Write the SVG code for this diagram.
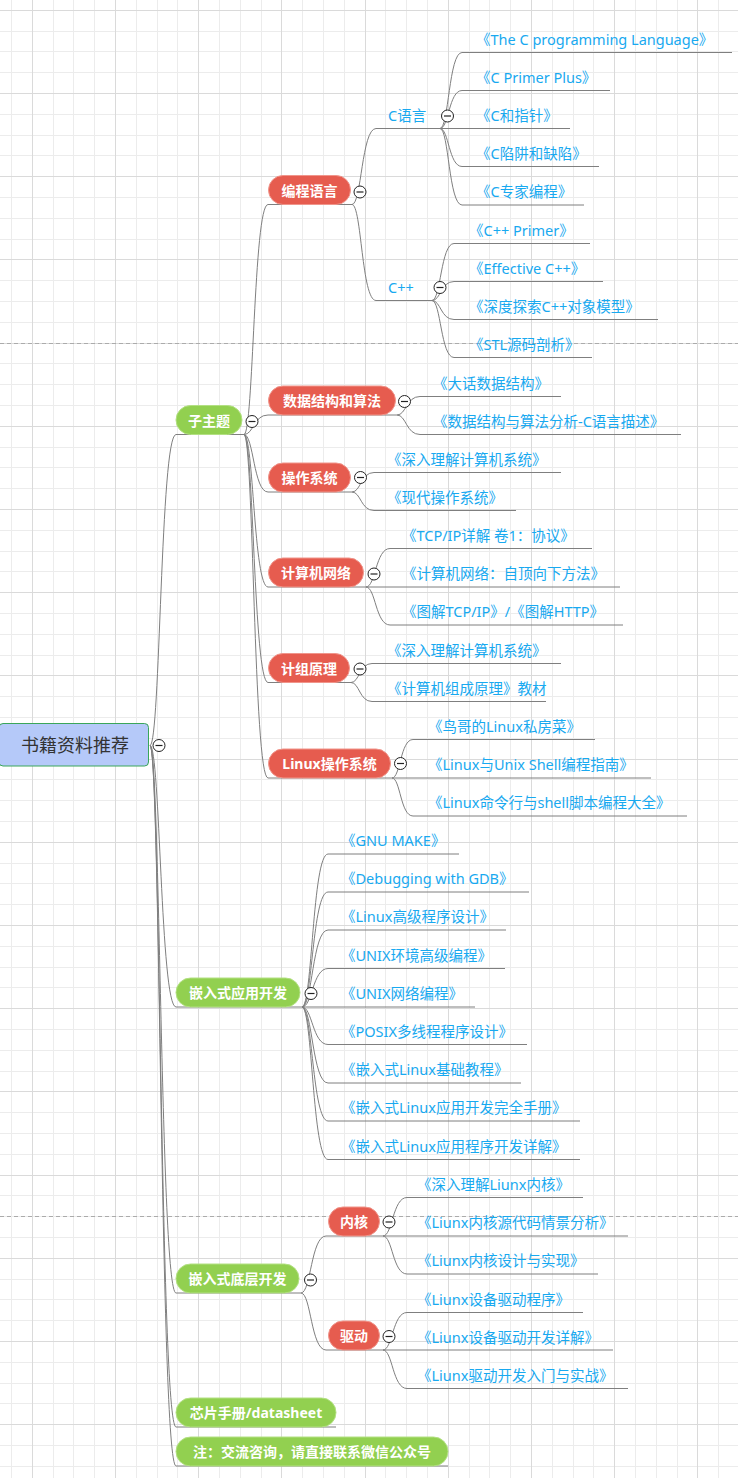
<svg xmlns="http://www.w3.org/2000/svg" xmlns:xlink="http://www.w3.org/1999/xlink" width="738" height="1478" viewBox="0 0 738 1478">
<style>
.gmin{stroke:#ececec;stroke-width:1;fill:none}
.gmaj{stroke:#dadada;stroke-width:1;fill:none}
.page{stroke:#ababab;stroke-width:1;stroke-dasharray:4 3}
#connectors path{fill:none;stroke:#7f7f7f;stroke-width:1}
.pr{fill:#e65c4f;stroke:#f0958b;stroke-width:1}
.pg{fill:#92d050;stroke:#b3e083;stroke-width:1}
.pt{font-family:"Noto Sans","Noto Sans CJK SC",sans-serif;font-size:14px;font-weight:bold;fill:#ffffff;text-anchor:middle}
.lt{font-family:"Noto Sans","Noto Sans CJK SC",sans-serif;font-size:14.5px;fill:#18a9f0}
.tc{fill:#ffffff;stroke:#222222;stroke-width:1}
.tm{stroke:#222222;stroke-width:1.2}
</style>
<defs>
<g id="tog"><circle class="tc" cx="0" cy="0" r="6"/><path class="tm" d="M-3.5 0H3.5"/></g>
</defs>
<rect width="738" height="1478" fill="#ffffff"/>
<g id="grid">
<path class="gmin" d="M11.5 0V1478M53.5 0V1478M73.5 0V1478M94.5 0V1478M136.5 0V1478M157.5 0V1478M177.5 0V1478M219.5 0V1478M240.5 0V1478M261.5 0V1478M302.5 0V1478M323.5 0V1478M344.5 0V1478M385.5 0V1478M406.5 0V1478M427.5 0V1478M469.5 0V1478M489.5 0V1478M510.5 0V1478M552.5 0V1478M573.5 0V1478M593.5 0V1478M635.5 0V1478M656.5 0V1478M677.5 0V1478M718.5 0V1478"/>
<path class="gmin" d="M0 31.5H738M0 51.5H738M0 72.5H738M0 114.5H738M0 135.5H738M0 155.5H738M0 197.5H738M0 218.5H738M0 239.5H738M0 280.5H738M0 301.5H738M0 322.5H738M0 363.5H738M0 384.5H738M0 405.5H738M0 447.5H738M0 467.5H738M0 488.5H738M0 530.5H738M0 551.5H738M0 571.5H738M0 613.5H738M0 634.5H738M0 655.5H738M0 696.5H738M0 717.5H738M0 738.5H738M0 779.5H738M0 800.5H738M0 821.5H738M0 863.5H738M0 883.5H738M0 904.5H738M0 946.5H738M0 967.5H738M0 987.5H738M0 1029.5H738M0 1050.5H738M0 1071.5H738M0 1112.5H738M0 1133.5H738M0 1154.5H738M0 1195.5H738M0 1216.5H738M0 1237.5H738M0 1279.5H738M0 1299.5H738M0 1320.5H738M0 1362.5H738M0 1383.5H738M0 1403.5H738M0 1445.5H738M0 1466.5H738"/>
<path class="gmaj" d="M32.5 0V1478M115.5 0V1478M198.5 0V1478M281.5 0V1478M365.5 0V1478M448.5 0V1478M531.5 0V1478M614.5 0V1478M697.5 0V1478"/>
<path class="gmaj" d="M0 10.5H738M0 93.5H738M0 176.5H738M0 259.5H738M0 343.5H738M0 426.5H738M0 509.5H738M0 592.5H738M0 675.5H738M0 759.5H738M0 842.5H738M0 925.5H738M0 1008.5H738M0 1091.5H738M0 1175.5H738M0 1258.5H738M0 1341.5H738M0 1424.5H738"/>
<path class="page" d="M0 343.5H738M0 1216.5H738"/>
</g>
<g id="connectors">
<path d="M150 745.5C160.4 745.5 160.4 434.5 176 434.5H244"/>
<path d="M150 745.5C160.4 745.5 160.4 1007 176 1007H302"/>
<path d="M150 745.5C160.4 745.5 160.4 1293 176 1293H301"/>
<path d="M150 745.5C160.4 745.5 160.4 1427 176 1427H336"/>
<path d="M150 745.5C160.4 745.5 160.4 1466 176 1466H448"/>
<path d="M244 434.5C253.6 434.5 253.6 204.5 268 204.5H352"/>
<path d="M244 434.5C253.6 434.5 253.6 415 268 415H397"/>
<path d="M244 434.5C253.6 434.5 253.6 492 268 492H352"/>
<path d="M244 434.5C253.6 434.5 253.6 587 268 587H366"/>
<path d="M244 434.5C253.6 434.5 253.6 682.5 268 682.5H351"/>
<path d="M244 434.5C253.6 434.5 253.6 778 268 778H392"/>
<path d="M352 204.5C361.6 204.5 361.6 128.5 376 128.5H440"/>
<path d="M352 204.5C361.6 204.5 361.6 300.5 376 300.5H432"/>
<path d="M440 128.5C448.8 128.5 448.8 52.5 462 52.5H732"/>
<path d="M440 128.5C448.8 128.5 448.8 90.5 462 90.5H610"/>
<path d="M440 128.5H570"/>
<path d="M440 128.5C448.8 128.5 448.8 166.5 462 166.5H599"/>
<path d="M440 128.5C448.8 128.5 448.8 205 462 205H584"/>
<path d="M432 300.5C440.8 300.5 440.8 243.5 454 243.5H590"/>
<path d="M432 300.5C440.8 300.5 440.8 281.5 454 281.5H603"/>
<path d="M432 300.5C440.8 300.5 440.8 319.5 454 319.5H658"/>
<path d="M432 300.5C440.8 300.5 440.8 357.5 454 357.5H592"/>
<path d="M397 415C406.2 415 406.2 396.5 420 396.5H561"/>
<path d="M397 415C406.2 415 406.2 434.5 420 434.5H681"/>
<path d="M352 492C360.8 492 360.8 472.5 374 472.5H561"/>
<path d="M352 492C360.8 492 360.8 510.5 374 510.5H516"/>
<path d="M366 587C375.6 587 375.6 548.5 390 548.5H592"/>
<path d="M366 587H620"/>
<path d="M366 587C375.6 587 375.6 625 390 625H623"/>
<path d="M351 682.5C359.4 682.5 359.4 663.5 372 663.5H561"/>
<path d="M351 682.5C359.4 682.5 359.4 701.5 372 701.5H546"/>
<path d="M392 778C400.4 778 400.4 739.5 413 739.5H595"/>
<path d="M392 778H651"/>
<path d="M392 778C400.4 778 400.4 816 413 816H687"/>
<path d="M302 1007C312.4 1007 312.4 854 328 854H459"/>
<path d="M302 1007C312.4 1007 312.4 892 328 892H529"/>
<path d="M302 1007C312.4 1007 312.4 930 328 930H506"/>
<path d="M302 1007C312.4 1007 312.4 968.5 328 968.5H505"/>
<path d="M302 1007H475"/>
<path d="M302 1007C312.4 1007 312.4 1044.5 328 1044.5H527"/>
<path d="M302 1007C312.4 1007 312.4 1083 328 1083H521"/>
<path d="M302 1007C312.4 1007 312.4 1121 328 1121H580"/>
<path d="M302 1007C312.4 1007 312.4 1159.5 328 1159.5H580"/>
<path d="M301 1293C311 1293 311 1236 326 1236H383"/>
<path d="M301 1293C311 1293 311 1350 326 1350H383"/>
<path d="M383 1236C392.6 1236 392.6 1197.5 407 1197.5H583"/>
<path d="M383 1236H628"/>
<path d="M383 1236C392.6 1236 392.6 1274 407 1274H598"/>
<path d="M383 1350C392.6 1350 392.6 1312.5 407 1312.5H583"/>
<path d="M383 1350H613"/>
<path d="M383 1350C392.6 1350 392.6 1388.5 407 1388.5H628"/>
</g>
<g id="root">
<rect x="-1" y="723.5" width="149.5" height="42.5" rx="4" fill="#b5c9f9" stroke="#3aa65a" stroke-width="1"/>
<text x="75" y="751.5" font-family="Noto Sans CJK SC, sans-serif" font-size="18" fill="#333333" text-anchor="middle">书籍资料推荐</text>
<use xlink:href="#tog" x="159" y="745.5"/>
</g>
<g id="n-zizhuti">
<rect class="pg" x="176" y="405.5" width="66" height="29" rx="14.5"/>
<text class="pt" x="209" y="425.5">子主题</text>
<use xlink:href="#tog" x="252" y="421.5"/>
</g>
<g id="n-biancheng">
<rect class="pr" x="268.5" y="175.5" width="82" height="29" rx="14.5"/>
<text class="pt" x="309.5" y="195.5">编程语言</text>
<use xlink:href="#tog" x="360" y="192"/>
</g>
<g id="n-c">
<text class="lt" x="388" y="121">C语言</text>
<use xlink:href="#tog" x="447.5" y="116"/>
</g>
<g id="n-c-books">
<text class="lt" x="476" y="44.5">《The C programming Language》</text>
<text class="lt" x="476" y="82.5">《C Primer Plus》</text>
<text class="lt" x="476" y="120.5">《C和指针》</text>
<text class="lt" x="476" y="158.5">《C陷阱和缺陷》</text>
<text class="lt" x="476" y="197">《C专家编程》</text>
</g>
<g id="n-cpp">
<text class="lt" x="388" y="293">C++</text>
<use xlink:href="#tog" x="440" y="287.5"/>
</g>
<g id="n-cpp-books">
<text class="lt" x="469" y="235.5">《C++ Primer》</text>
<text class="lt" x="469" y="273.5">《Effective C++》</text>
<text class="lt" x="469" y="311.5">《深度探索C++对象模型》</text>
<text class="lt" x="469" y="349.5">《STL源码剖析》</text>
</g>
<g id="n-ds">
<rect class="pr" x="268.5" y="386" width="127" height="29" rx="14.5"/>
<text class="pt" x="332" y="406">数据结构和算法</text>
<use xlink:href="#tog" x="404.5" y="401.5"/>
<text class="lt" x="433" y="388.5">《大话数据结构》</text>
<text class="lt" x="433" y="426.5">《数据结构与算法分析-C语言描述》</text>
</g>
<g id="n-os">
<rect class="pr" x="268.5" y="463" width="82" height="29" rx="14.5"/>
<text class="pt" x="309.5" y="483">操作系统</text>
<use xlink:href="#tog" x="360.5" y="477.5"/>
<text class="lt" x="387" y="464.5">《深入理解计算机系统》</text>
<text class="lt" x="387" y="502.5">《现代操作系统》</text>
</g>
<g id="n-net">
<rect class="pr" x="268.5" y="558" width="95" height="29" rx="14.5"/>
<text class="pt" x="316" y="578">计算机网络</text>
<use xlink:href="#tog" x="374" y="574"/>
<text class="lt" x="402" y="540.5">《TCP/IP详解 卷1：协议》</text>
<text class="lt" x="402" y="579">《计算机网络：自顶向下方法》</text>
<text class="lt" x="402" y="617">《图解TCP/IP》/《图解HTTP》</text>
</g>
<g id="n-arch">
<rect class="pr" x="268.5" y="653.5" width="81" height="29" rx="14.5"/>
<text class="pt" x="309" y="673.5">计组原理</text>
<use xlink:href="#tog" x="360" y="669"/>
<text class="lt" x="387" y="655.5">《深入理解计算机系统》</text>
<text class="lt" x="387" y="693.5">《计算机组成原理》教材</text>
</g>
<g id="n-linux">
<rect class="pr" x="268.5" y="749" width="122" height="29" rx="14.5"/>
<text class="pt" x="329.5" y="769">Linux操作系统</text>
<use xlink:href="#tog" x="400.5" y="763.5"/>
<text class="lt" x="428" y="731.5">《鸟哥的Linux私房菜》</text>
<text class="lt" x="428" y="769.5">《Linux与Unix Shell编程指南》</text>
<text class="lt" x="428" y="808">《Linux命令行与shell脚本编程大全》</text>
</g>
<g id="n-app">
<rect class="pg" x="176" y="978" width="124" height="29" rx="14.5"/>
<text class="pt" x="238" y="998">嵌入式应用开发</text>
<use xlink:href="#tog" x="311" y="993.5"/>
<text class="lt" x="341" y="846">《GNU MAKE》</text>
<text class="lt" x="341" y="884">《Debugging with GDB》</text>
<text class="lt" x="341" y="922">《Linux高级程序设计》</text>
<text class="lt" x="341" y="960.5">《UNIX环境高级编程》</text>
<text class="lt" x="341" y="999">《UNIX网络编程》</text>
<text class="lt" x="341" y="1036.5">《POSIX多线程程序设计》</text>
<text class="lt" x="341" y="1075">《嵌入式Linux基础教程》</text>
<text class="lt" x="341" y="1113">《嵌入式Linux应用开发完全手册》</text>
<text class="lt" x="341" y="1151.5">《嵌入式Linux应用程序开发详解》</text>
</g>
<g id="n-low">
<rect class="pg" x="176" y="1264" width="123" height="29" rx="14.5"/>
<text class="pt" x="237.5" y="1284">嵌入式底层开发</text>
<use xlink:href="#tog" x="310.5" y="1280"/>
</g>
<g id="n-kernel">
<rect class="pr" x="328.5" y="1207" width="51" height="29" rx="14.5"/>
<text class="pt" x="354" y="1227">内核</text>
<use xlink:href="#tog" x="389" y="1222"/>
<text class="lt" x="417" y="1189.5">《深入理解Liunx内核》</text>
<text class="lt" x="417" y="1228">《Liunx内核源代码情景分析》</text>
<text class="lt" x="417" y="1266">《Liunx内核设计与实现》</text>
</g>
<g id="n-driver">
<rect class="pr" x="328.5" y="1321" width="51" height="29" rx="14.5"/>
<text class="pt" x="354" y="1341">驱动</text>
<use xlink:href="#tog" x="389" y="1336.5"/>
<text class="lt" x="417" y="1304.5">《Liunx设备驱动程序》</text>
<text class="lt" x="417" y="1342.5">《Liunx设备驱动开发详解》</text>
<text class="lt" x="417" y="1380.5">《Liunx驱动开发入门与实战》</text>
</g>
<g id="n-datasheet">
<rect class="pg" x="176" y="1398" width="160" height="29" rx="14.5"/>
<text class="pt" x="256" y="1418">芯片手册/datasheet</text>
</g>
<g id="n-note">
<rect class="pg" x="176" y="1437" width="272" height="29" rx="14.5"/>
<text class="pt" x="312" y="1457">注：交流咨询，请直接联系微信公众号</text>
</g>
</svg>
